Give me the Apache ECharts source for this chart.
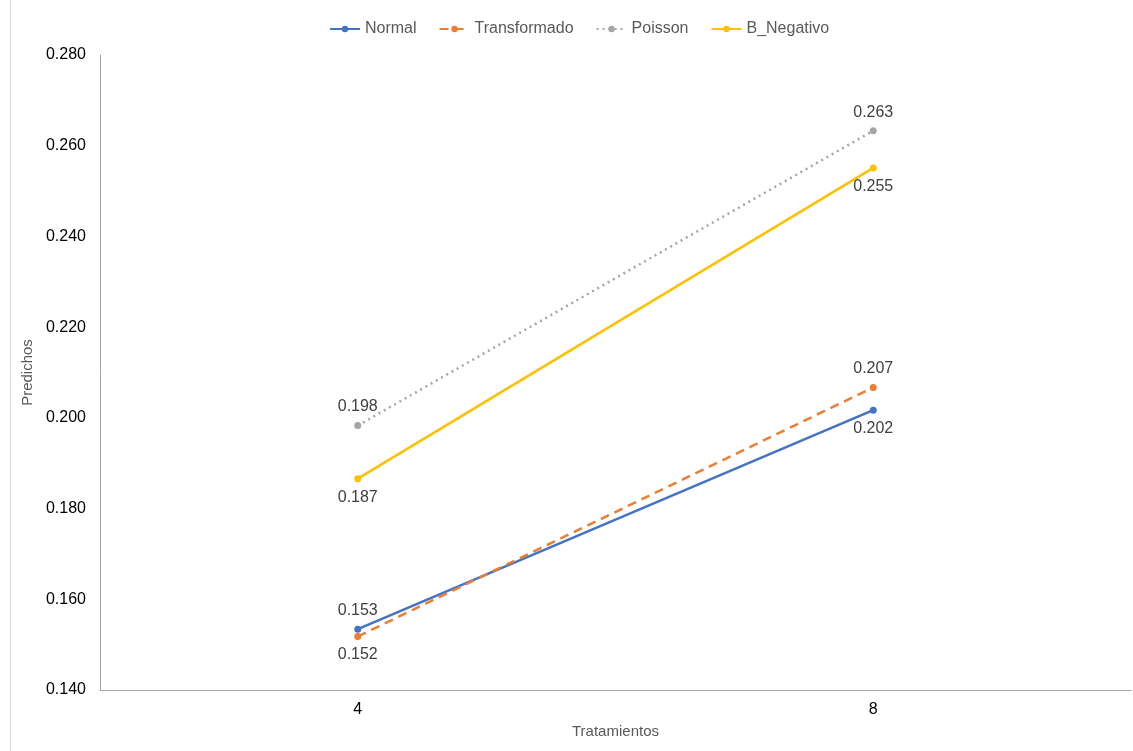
<!DOCTYPE html>
<html><head><meta charset="utf-8">
<script src="https://cdn.jsdelivr.net/npm/echarts@6/dist/echarts.min.js"></script>
<style>html,body{margin:0;padding:0;background:#fff}#c{width:1133px;height:751px}</style>
</head><body><div id="c"></div>
<script>
const categories = ['4', '8'];
const normal = [0.1534, 0.2017];
const transformado = [0.1518, 0.2067];
const poisson = [0.1983, 0.2633];
const bNegativo = [0.1866, 0.2551];
const seriesNames = ['Normal', 'Transformado', 'Poisson', 'B_Negativo'];

const chart = echarts.init(document.getElementById('c'));
const font = 'Liberation Sans, Arial, sans-serif';
function mk(name, data, color, type, posArr){
  return {
    name, type: 'line', symbol: 'circle', symbolSize: 7,
    lineStyle: {color, width: 2.5, type: type},
    itemStyle: {color},
    data: data.map((v,i)=>({value:v, label:{show:true, position: posArr[i], distance: 7, fontFamily: font, fontSize: 16, color:'#404040', formatter: p=>p.value.toFixed(3)}})),
    z: 2
  };
}
chart.setOption({
  animation: false,
  graphic: [{type:'line', shape:{x1:10.5,y1:0,x2:10.5,y2:751}, style:{stroke:'#d9d9d9', lineWidth:1}}],
  legend: {
    top: 16, left: 324, itemGap: 22, itemWidth: 30, itemHeight: 8,
    textStyle: {fontFamily: font, fontSize: 16, color: '#595959'},
    data: seriesNames
  },
  grid: {left: 100, right: 2, top: 55, bottom: 61},
  xAxis: {
    type: 'category', data: categories, boundaryGap: true,
    name: 'Tratamientos', nameLocation: 'middle', nameGap: 34,
    nameTextStyle: {fontFamily: font, fontSize: 15, color: '#595959'},
    axisLine: {lineStyle: {color: '#a6a6a6', width: 1}},
    axisTick: {show: false},
    axisLabel: {fontFamily: font, fontSize: 16, color: '#000', margin: 12}
  },
  yAxis: {
    type: 'value', min: 0.14, max: 0.28, interval: 0.02,
    name: 'Predichos', nameLocation: 'middle', nameGap: 60, nameRotate: 90,
    nameTextStyle: {fontFamily: font, fontSize: 15, color: '#595959'},
    axisLine: {show: true, lineStyle: {color: '#a6a6a6', width: 1}},
    axisTick: {show: false},
    splitLine: {show: false},
    axisLabel: {fontFamily: font, fontSize: 16, color: '#000', margin: 14, formatter: v => v.toFixed(3)}
  },
  series: [
    mk('Normal', normal, '#4472c4', 'solid', ['top','bottom']),
    mk('Transformado', transformado, '#ed7d31', [9,6], ['bottom','top']),
    mk('Poisson', poisson, '#a5a5a5', [2,4], ['top','top']),
    mk('B_Negativo', bNegativo, '#ffc000', 'solid', ['bottom','bottom'])
  ]
});
</script></body></html>
